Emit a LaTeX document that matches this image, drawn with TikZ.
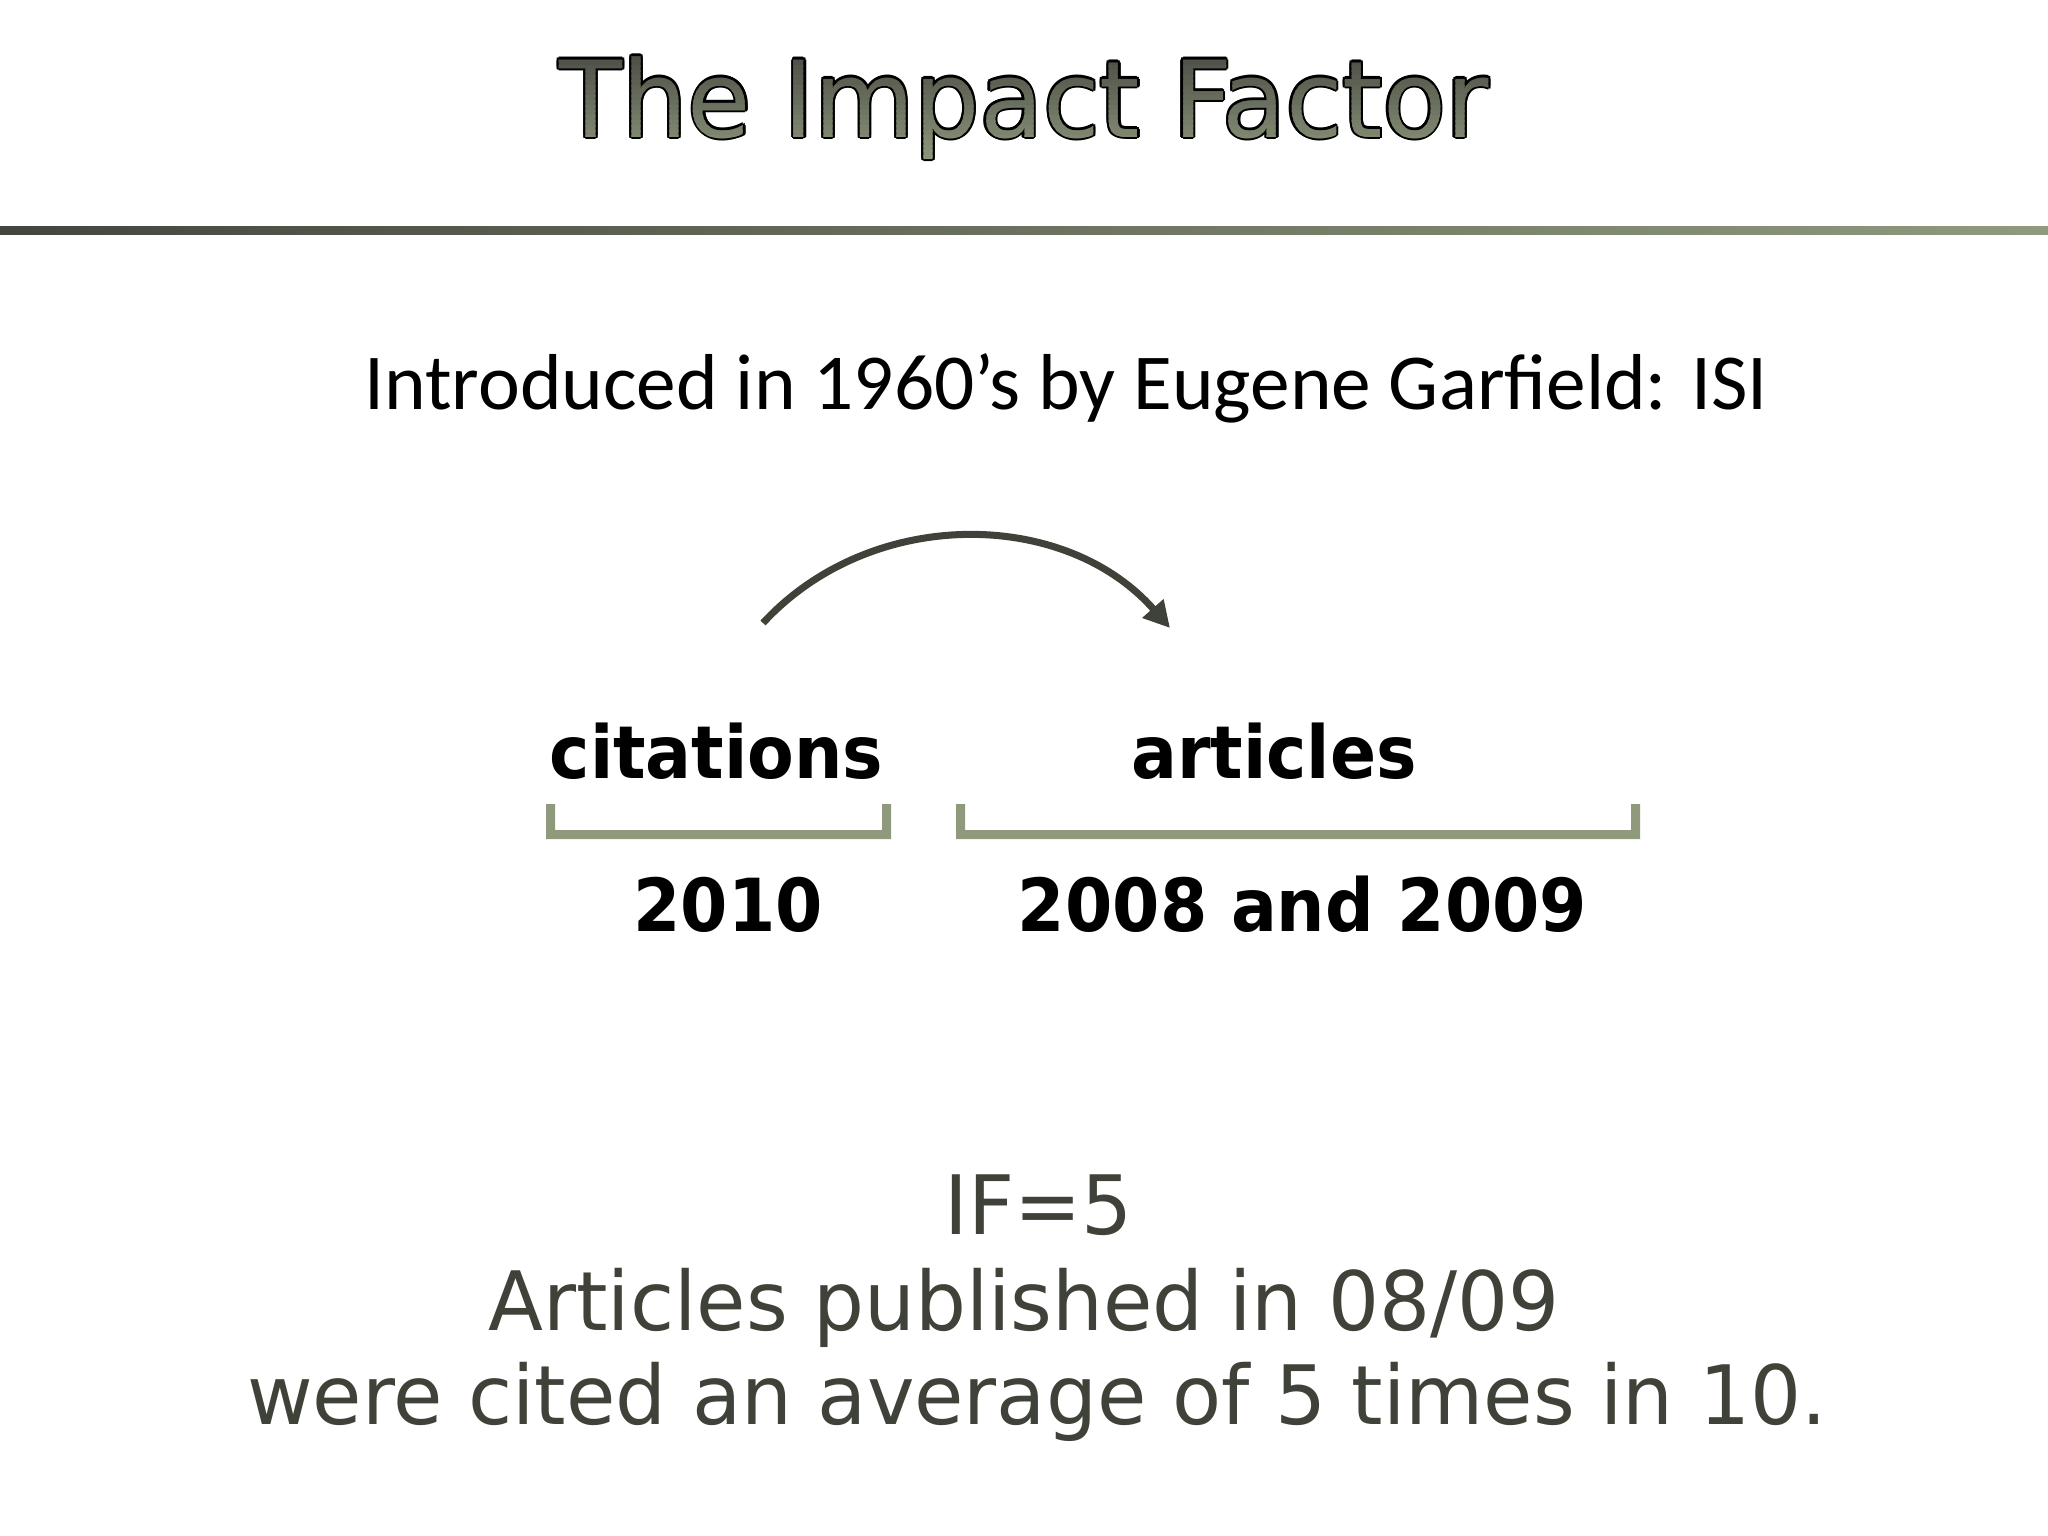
\documentclass[tikz,border=0pt]{standalone}
\usepackage{fontspec}
\usetikzlibrary{arrows.meta}
\setmainfont{DejaVu Sans}
\newfontfamily\titlefont[FakeStretch=0.97]{DejaVu Sans}
\newfontfamily\subfont{Carlito}
\newfontfamily\lblfont[FakeStretch=0.93]{DejaVu Sans Bold}
\newfontfamily\bodyfont[FakeStretch=0.98]{DejaVu Sans}
\definecolor{olivedk}{HTML}{3F4238}
\definecolor{sage}{HTML}{8F9A7C}
\definecolor{lineL}{HTML}{43463F}
\definecolor{lineM}{HTML}{6B715E}
\definecolor{lineR}{HTML}{8F9A7E}
\definecolor{tTop}{HTML}{4A4C44}
\definecolor{tBot}{HTML}{8C967B}
\tikzset{
  titletxt/.style={inner sep=0pt, anchor=base, font=\titlefont\fontsize{30.2pt}{36pt}\selectfont},
  subtxt/.style={inner sep=0pt, anchor=base, font=\subfont\fontsize{22.55pt}{28pt}\selectfont, text=black},
  lbltxt/.style={inner sep=0pt, anchor=base, font=\lblfont\fontsize{20.8pt}{25pt}\selectfont, text=black},
  bodytxt/.style={inner sep=0pt, anchor=base, font=\bodyfont\fontsize{23.3pt}{28pt}\selectfont, text=olivedk},
  bracketfill/.style={fill=sage},
  arcarrow/.style={draw=olivedk, line width=2pt, -{Triangle[length=7.4pt,width=7.6pt]}}
}
\begin{document}
\begin{tikzpicture}[x=0.01cm, y=-0.01cm]
\useasboundingbox[fill=white] (0,0) rectangle (2048,1536);
% title outline
\foreach \a in {0,30,...,330}{
  \node[titletxt, text=black] (tout\a) at ([shift={(\a:2.2)}]1024,137) {The Impact Factor};
}
% title gradient fill
\foreach \i in {0,...,21}{
  \pgfmathsetmacro\pc{100*\i/21}
  \begin{scope}
    \clip (0,50+5*\i) rectangle (2048,56+5*\i);
    \node[titletxt, text=tBot!\pc!tTop] (tfill\i) at (1024,137) {The Impact Factor};
  \end{scope}
}
% rule
\shade[left color=lineL, right color=lineR, middle color=lineM] (0,226) rectangle (2048,234);
% subtitle
\node[subtxt] (sub) at (1066,409) {Introduced in 1960’s by Eugene Garfield: ISI};
% arc arrow
\coordinate (arcS) at (763,623);
\coordinate (arcE) at (1170,628);
\draw[arcarrow] (arcS) to[bend left=48] (arcE);
% labels
\node[lbltxt] (cit) at (716.5,778) {citations};
\node[lbltxt] (art) at (1274,778) {articles};
% brackets
\fill[bracketfill] (546,804) -- (546,839) -- (891,839) -- (891,804) -- (882,804) -- (882,830) -- (555,830) -- (555,804) -- cycle;
\fill[bracketfill] (956,804) -- (956,839) -- (1640,839) -- (1640,804) -- (1631,804) -- (1631,830) -- (965,830) -- (965,804) -- cycle;
% years
\node[lbltxt] (y1) at (728,931) {2010};
\node[lbltxt] (y2) at (1302.5,931) {2008 and 2009};
% bottom text
\node[bodytxt] (if) at (1038.5,1234) {IF=5};
\node[bodytxt] (l2) at (1024,1330) {Articles published in 08/09};
\node[bodytxt] (l3) at (1037,1424) {were cited an average of 5 times in 10.};
\end{tikzpicture}
\end{document}
